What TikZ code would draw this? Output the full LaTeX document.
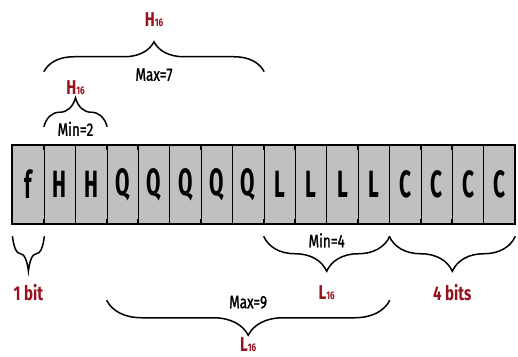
\documentclass[tikz,border=0pt]{standalone}
\usepackage{fontspec}
\setmainfont{Fira Sans}
\newfontfamily\labfont{Fira Sans}[FakeStretch=0.75]
\newfontfamily\midfont{Fira Sans}[FakeStretch=0.75, FakeBold=1.2]
\newfontfamily\cellfont{Fira Sans}[FakeStretch=0.55]
\definecolor{bitred}{RGB}{150, 18, 30}
\definecolor{cellgray}{RGB}{192, 192, 192}
\usetikzlibrary{calc, decorations.pathreplacing}

\newcommand{\sub}[2]{#1{\fontsize{11}{11}\selectfont #2}}

\begin{document}
\begin{tikzpicture}[x=1pt, y=1pt,
    cell/.style={draw=black, line width=0.5pt, fill=cellgray, minimum width=31.4pt, minimum height=79pt, inner sep=0pt, font=\cellfont\bfseries\fontsize{38}{38}\selectfont},
    bracepath/.style={decorate, decoration={brace, amplitude=#1}, line width=1.5pt},
    minmax/.style={font=\midfont\fontsize{18}{18}\selectfont},
    redlab/.style={text=bitred, font=\labfont\bfseries\fontsize{20}{20}\selectfont}]
  \useasboundingbox (0,0) rectangle (518,356);

  % the sixteen bit cells
  \foreach \ch [count=\i from 0] in {f,H,H,Q,Q,Q,Q,Q,L,L,L,L,C,C,C,C}
    \node[cell] (c\i) at ({28.4+31.4*\i}, 171.5) {\ch};
  \draw[line width=2pt] (c0.south west) rectangle (c15.north east);
  \foreach \i in {1,...,15} {
    \draw[line width=1.3pt] (c\i.north west) -- ++(0,-5);
    \draw[line width=1.3pt] (c\i.south west) -- ++(0,5);
  }

  % braces above
  \draw[bracepath=30pt] ($(c1.north west)+(0,73)$) -- ($(c7.north east)+(0,73)$)
    node[midway, yshift=-3pt, minmax] (max7) {Max=7}
    node[midway, yshift=52pt, redlab] (h16a) {\sub{H}{16}};
  \draw[bracepath=29pt] ($(c1.north west)+(0,18)$) -- ($(c2.north east)+(0,18)$)
    node[midway, yshift=-2pt, minmax] (min2) {Min=2}
    node[midway, yshift=39pt, redlab] (h16b) {\sub{H}{16}};

  % braces below
  \draw[bracepath=35pt] ($(c0.south east)+(0,-12)$) -- ($(c0.south west)+(0,-12)$)
    node[midway, yshift=-56pt, redlab] (onebit) {1 bit};
  \draw[bracepath=35pt] ($(c11.south east)+(0,-12)$) -- ($(c8.south west)+(0,-12)$)
    node[midway, yshift=-4pt, minmax] (min4) {Min=4}
    node[midway, yshift=-56pt, redlab] (l16a) {\sub{L}{16}};
  \draw[bracepath=35pt] ($(c15.south east)+(0,-12)$) -- ($(c12.south west)+(0,-12)$)
    node[midway, yshift=-56pt, redlab] (fourbits) {4 bits};
  \draw[bracepath=35pt] ($(c11.south east)+(0,-76)$) -- ($(c3.south west)+(0,-76)$)
    node[midway, yshift=-2pt, minmax] (max9) {Max=9}
    node[midway, yshift=-44pt, redlab] (l16b) {\sub{L}{16}};
\end{tikzpicture}
\end{document}
